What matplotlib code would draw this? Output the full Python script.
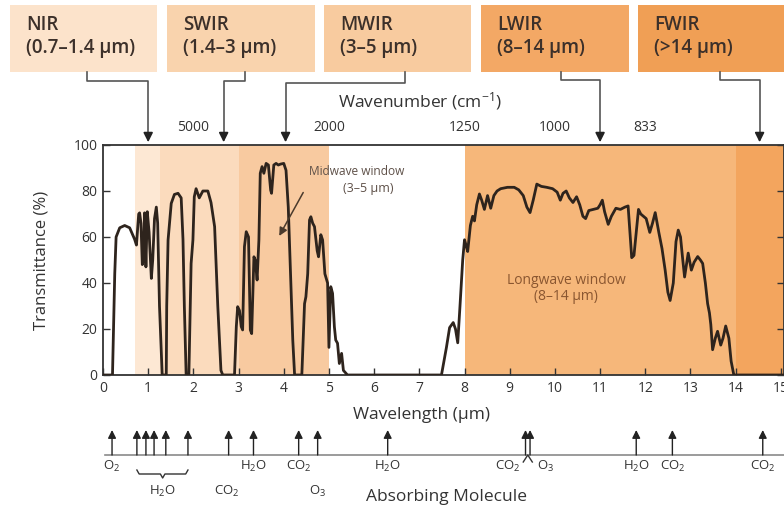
import numpy as np
import matplotlib
matplotlib.use("Agg")
import matplotlib.pyplot as plt
from matplotlib.patches import Rectangle

plt.rcParams['font.family'] = ['Open Sans', 'DejaVu Sans']
plt.rcParams['mathtext.fontset'] = 'custom'
plt.rcParams['mathtext.rm'] = 'Open Sans'
plt.rcParams['mathtext.it'] = 'Open Sans:italic'

# transmittance curve (wavelength in um, transmittance in %)
wavelength = [
    0.0, 0.21, 0.26, 0.29, 0.37, 0.48, 0.59, 0.70, 0.74,
    0.79, 0.81, 0.84, 0.87, 0.89, 0.92, 0.95, 0.98, 1.02, 1.07, 1.10, 1.14, 1.18, 1.21, 1.25, 1.31,
    1.40, 1.41, 1.44, 1.51, 1.58, 1.66, 1.73, 1.77, 1.80, 1.84,
    1.90, 1.93, 1.95, 1.99, 2.02, 2.06, 2.13, 2.21, 2.32, 2.39, 2.47, 2.54, 2.61, 2.65,
    2.91, 2.95, 2.98, 3.02, 3.06, 3.09, 3.13, 3.17, 3.22, 3.26, 3.29, 3.34, 3.37, 3.41, 3.45,
    3.48, 3.52, 3.56, 3.61, 3.66, 3.71, 3.73, 3.78, 3.83, 3.88, 3.93, 4.00, 4.05, 4.10, 4.15,
    4.20, 4.24,
    4.40, 4.43, 4.46, 4.49, 4.53, 4.57, 4.60, 4.64, 4.68, 4.74, 4.77, 4.82, 4.86, 4.91, 4.97,
    5.00, 5.04, 5.08, 5.12, 5.15, 5.19, 5.23, 5.28, 5.32, 5.41,
    7.49, 7.60, 7.67, 7.75, 7.80, 7.85, 7.90, 7.96, 8.00, 8.04, 8.07, 8.13, 8.18, 8.22, 8.27,
    8.33, 8.38, 8.44, 8.51, 8.58, 8.65, 8.72, 8.80, 8.95, 9.10, 9.20, 9.30, 9.38, 9.45, 9.52,
    9.60, 9.70, 9.82, 9.95, 10.05, 10.12, 10.18, 10.25, 10.32, 10.40, 10.48, 10.55, 10.62,
    10.68, 10.75, 10.85, 10.95, 11.00, 11.05, 11.10, 11.18, 11.25, 11.35, 11.45, 11.55, 11.62,
    11.66, 11.70, 11.75, 11.80, 11.85, 11.90, 11.96, 12.02, 12.10, 12.16, 12.22, 12.30, 12.37,
    12.44, 12.50, 12.55, 12.62, 12.68, 12.73, 12.78, 12.83, 12.87, 12.95, 13.02, 13.08, 13.16,
    13.22, 13.27, 13.33, 13.38, 13.42, 13.45, 13.49, 13.55, 13.60, 13.67, 13.72, 13.78, 13.85,
    13.90, 13.96, 15.10,
]
transmittance = [
    0, 0, 44, 60, 64, 65, 64, 59, 56.5,
    70, 70.5, 66, 48, 50, 70.5, 47, 71, 62, 42, 50, 68, 73, 66, 30, 0,
    0, 30, 58.7, 74.6, 78.5, 79, 77, 59, 30, 0,
    0, 30, 48.5, 58.7, 77.5, 81, 77, 80, 80, 75, 64.5, 30, 2, 0,
    0, 21, 29.7, 28, 21, 19.6, 55.8, 62.3, 60, 19.6, 18, 51.4, 50, 41.3, 58.7,
    87.7, 90.6, 87.7, 92, 91.3, 80.4, 79, 91.3, 92, 91.3, 91.7, 92, 89, 73, 44,
    15, 0,
    0, 15, 31, 34, 44, 67.4, 68.8, 66, 64.5, 54, 51.4, 61, 58.7, 44, 40,
    12, 38.4, 35.5, 21, 15.2, 13.8, 5, 9.4, 2, 0,
    0, 12, 20.6, 22.8, 20, 14, 30, 50, 58.8, 56, 53.7, 65, 69, 67, 74,
    78.7, 76, 72, 78, 72.5, 78, 80, 81, 81.6, 81.6, 80.5, 78, 73, 70.6, 76,
    83, 82, 81.6, 81, 79.5, 76, 79, 80, 77, 75, 77.5, 74, 69,
    68, 71.5, 72, 72.5, 74, 76, 71, 65.5, 69, 72.5, 72, 73, 73.5,
    62, 51, 52, 62, 72, 70, 69, 68, 62, 66, 70.6, 62, 55,
    45.6, 36, 32.4, 40, 58, 63, 60, 50, 42.6, 53, 45.6, 49, 51.5,
    50, 48.5, 40, 31, 27, 22, 11, 16, 19, 13, 16, 21.3, 16,
    6, 0, 0,
]

# infrared bands
band_names = ["NIR", "SWIR", "MWIR", "LWIR", "FWIR"]
band_ranges = ["(0.7–1.4 µm)", "(1.4–3 µm)", "(3–5 µm)", "(8–14 µm)", "(>14 µm)"]
band_arrow_wl = [1.0, 2.67, 4.04, 11.0, 14.53]
band_box_colors = ["#fce3cb", "#f9d3ad", "#f8cb9f", "#f3a865", "#f09f55"]

shade_lo = [0.7, 1.27, 3.0, 8.0, 14.0]
shade_hi = [1.27, 3.0, 5.0, 14.0, 15.07]
shade_colors = ["#fde8d4", "#fbdbbd", "#f8caa0", "#f6b77a", "#f3a55e"]

# top axis: wavenumbers
wavenumbers = [5000, 2000, 1250, 1000, 833]

# absorbing molecules along the wavelength axis
mol_wl = [0.2, 0.75, 0.95, 1.13, 1.39, 1.88, 2.78, 3.33, 4.33, 4.75,
          6.3, 9.35, 9.45, 11.8, 12.6, 14.6]
mol_upper_labels = [("O$_2$", 0.2), ("H$_2$O", 3.33), ("CO$_2$", 4.33), ("H$_2$O", 6.3),
                    ("CO$_2$", 8.95), ("O$_3$", 9.8), ("H$_2$O", 11.8),
                    ("CO$_2$", 12.6), ("CO$_2$", 14.6)]
mol_lower_labels = [("H$_2$O", 1.32), ("CO$_2$", 2.74), ("O$_3$", 4.75)]

W, H = 784, 513
XMAX = 15.07
TXT = "#333333"
fig = plt.figure(figsize=(W / 100, H / 100), dpi=100)

ax = fig.add_axes([103 / W, 1 - 375 / H, 681 / W, 230 / H])
for lo, hi, c in zip(shade_lo, shade_hi, shade_colors):
    ax.axvspan(lo, hi, color=c, lw=0, zorder=0)
ax.plot(wavelength, transmittance, color="#2e241d", lw=2.0, zorder=3,
        solid_joinstyle="round")
ax.set_xlim(0, XMAX)
ax.set_ylim(0, 100)
ax.set_xticks(range(0, 16))
ax.set_yticks(range(0, 101, 20))
ax.tick_params(direction="in", length=5, width=1, color=TXT,
               top=True, right=True, labelsize=10, labelcolor=TXT, pad=4)
for s in ax.spines.values():
    s.set_color(TXT)
    s.set_linewidth(1.3)
ax.set_ylabel("Transmittance (%)", fontsize=12, color=TXT)
ax.yaxis.set_label_coords(-0.078, 0.5)
ax.set_xlabel("Wavelength (µm)", fontsize=12.5, color=TXT)
ax.xaxis.set_label_coords(0.468, -0.14)

# wavenumber labels on top
top = ax.twiny()
top.set_xlim(ax.get_xlim())
top.set_xticks([1e4 / w for w in wavenumbers])
top.set_xticklabels([str(w) for w in wavenumbers])
top.tick_params(length=0, labelsize=10, labelcolor=TXT, pad=7)
for s in top.spines.values():
    s.set_visible(False)

# window annotations
ax.text(5.61, 88.3, "Midwave window", ha="center", va="center", fontsize=8.6, color="#5e5048")
ax.text(5.87, 81.3, "(3–5 µm)", ha="center", va="center", fontsize=9, color="#5e5048")
ax.annotate("", xy=(3.87, 59.4), xytext=(4.46, 80.4),
            arrowprops=dict(arrowstyle="-|>", color="#4a3a2c", lw=1.1, mutation_scale=12))
ax.text(10.25, 41, "Longwave window", ha="center", va="center", fontsize=10, color="#8a5630")
ax.text(10.25, 34, "(8–14 µm)", ha="center", va="center", fontsize=10, color="#8a5630")

# overlay in pixel coordinates for the band boxes and connectors
ov = fig.add_axes([0, 0, 1, 1], zorder=5)
ov.set_xlim(0, W)
ov.set_ylim(H, 0)
ov.axis("off")
ov.patch.set_alpha(0)

box_left = [10, 167, 324, 481, 638]
box_right = [157, 315, 471, 629, 784]
conn_x = [87, 245, 405, 561, 720]
conn_y = [81, 81, 83, 80, 80]


def wl_to_px(wl):
    disp = ax.transData.transform((wl, 100))
    return ov.transData.inverted().transform(disp)[0]


for name, rng, c, l, r, cx, cy, wl in zip(band_names, band_ranges, band_box_colors,
                                          box_left, box_right, conn_x, conn_y, band_arrow_wl):
    ov.add_patch(Rectangle((l, 5), r - l, 67, facecolor=c, edgecolor="none"))
    ov.text(l + 16, 36, name + "\n" + rng, ha="left", va="center", fontsize=13.5,
            fontweight="semibold", color="#3c302a", linespacing=1.2)
    ax_x = wl_to_px(wl)
    ov.plot([cx, cx, ax_x, ax_x], [72, cy, cy, 137], color="#555555", lw=1.2)
    ov.annotate("", xy=(ax_x, 145), xytext=(ax_x, 134),
                arrowprops=dict(arrowstyle="-|>", color="#222222", lw=1.2, mutation_scale=14))

ov.text(420, 101, "Wavenumber (cm$^{-1}$)", ha="center", va="center", fontsize=12.5,
        color=TXT)

# absorbing molecule strip
am = fig.add_axes([103 / W, 0, 681 / W, 93 / H])
am.set_xlim(0, XMAX)
am.set_ylim(513, 420)
am.axis("off")
am.plot([0.05, XMAX], [455, 455], color="#8a8a8a", lw=1.2, clip_on=False)
for wl in mol_wl:
    am.annotate("", xy=(wl, 430), xytext=(wl, 455),
                arrowprops=dict(arrowstyle="-|>", color="#222222", lw=1, mutation_scale=12,
                                shrinkA=0, shrinkB=0))
for lab, wl in mol_upper_labels:
    am.text(wl, 466, lab, ha="center", va="center", fontsize=9.5, color=TXT)
for lab, wl in mol_lower_labels:
    am.text(wl, 491, lab, ha="center", va="center", fontsize=9.5, color=TXT)

# brace under the water cluster
b0, b1 = mol_wl[1], mol_wl[5]
bm = 1.32
am.plot([b0, b0 + 0.05, bm - 0.05, bm, bm + 0.05, b1 - 0.05, b1],
        [470, 474, 474, 478, 474, 474, 470], color=TXT, lw=1)
# caret under the CO2 / O3 pair
pm = (mol_wl[11] + mol_wl[12]) / 2
am.plot([pm - 0.1, pm, pm + 0.1], [462, 455, 462], color=TXT, lw=1)

am.text(7.6, 497, "Absorbing Molecule", ha="center", va="center", fontsize=12.5,
        color=TXT)

fig.savefig("out.png", dpi=100)
